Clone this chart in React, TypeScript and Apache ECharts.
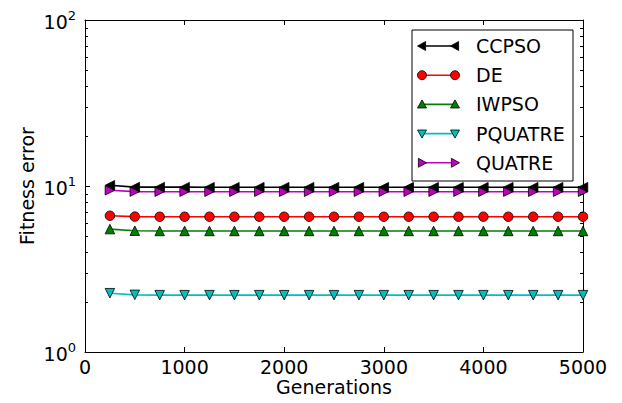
import React, { useEffect, useRef } from "react";
import * as echarts from "echarts";

// Generations at which the error is recorded
const generations = [250, 500, 750, 1000, 1250, 1500, 1750, 2000, 2250, 2500, 2750, 3000, 3250, 3500, 3750, 4000, 4250, 4500, 4750, 5000];

const ccpso = [10.1, 9.85, 9.84, 9.84, 9.83, 9.83, 9.83, 9.83, 9.83, 9.83, 9.83, 9.83, 9.83, 9.83, 9.83, 9.83, 9.83, 9.83, 9.83, 9.83];
const de = [6.62, 6.54, 6.53, 6.53, 6.53, 6.53, 6.53, 6.53, 6.53, 6.53, 6.53, 6.53, 6.53, 6.53, 6.53, 6.53, 6.53, 6.53, 6.53, 6.53];
const iwpso = [5.5, 5.38, 5.36, 5.36, 5.36, 5.36, 5.36, 5.36, 5.36, 5.36, 5.36, 5.36, 5.36, 5.36, 5.36, 5.36, 5.36, 5.36, 5.36, 5.36];
const pquatre = [2.26, 2.21, 2.2, 2.2, 2.2, 2.2, 2.2, 2.2, 2.2, 2.2, 2.2, 2.2, 2.2, 2.2, 2.2, 2.2, 2.2, 2.2, 2.2, 2.2];
const quatre = [9.42, 9.25, 9.24, 9.24, 9.24, 9.24, 9.24, 9.24, 9.24, 9.24, 9.24, 9.24, 9.24, 9.24, 9.24, 9.24, 9.24, 9.24, 9.24, 9.24];

const seriesNames = ["CCPSO", "DE", "IWPSO", "PQUATRE", "QUATRE"];
const seriesValues = [ccpso, de, iwpso, pquatre, quatre];
const seriesColors = ["#000000", "#ff0000", "#008000", "#00bfbf", "#bf00bf"];
// marker shape per series: left triangle, circle, up triangle, down triangle, right triangle
const seriesMarkers = ["left", "circle", "up", "down", "right"];

const xTicks = [0, 1000, 2000, 3000, 4000, 5000];
const yMinorTicks = [2, 3, 4, 5, 6, 7, 8, 9, 20, 30, 40, 50, 60, 70, 80, 90];

const FONT = "DejaVu Sans";

function symbolFor(m: string) {
  if (m === "circle") return { symbol: "circle", rotate: 0 };
  if (m === "up") return { symbol: "triangle", rotate: 0 };
  if (m === "down") return { symbol: "triangle", rotate: 180 };
  if (m === "left") return { symbol: "triangle", rotate: 90 };
  return { symbol: "triangle", rotate: -90 };
}

function markerGraphic(m: string, cx: number, cy: number, color: string) {
  const r = 4.5;
  const style = { fill: color, stroke: "#000", lineWidth: 0.8 };
  if (m === "circle") return { type: "circle", shape: { cx, cy, r }, style };
  let pts: number[][];
  if (m === "up") pts = [[cx, cy - r], [cx - r, cy + r * 0.8], [cx + r, cy + r * 0.8]];
  else if (m === "down") pts = [[cx, cy + r], [cx - r, cy - r * 0.8], [cx + r, cy - r * 0.8]];
  else if (m === "left") pts = [[cx - r, cy], [cx + r * 0.8, cy - r], [cx + r * 0.8, cy + r]];
  else pts = [[cx + r, cy], [cx - r * 0.8, cy - r], [cx - r * 0.8, cy + r]];
  return { type: "polygon", shape: { points: pts }, style };
}

export default function App() {
  const ref = useRef<HTMLDivElement>(null);

  useEffect(() => {
    if (!ref.current) return;
    const chart = echarts.init(ref.current, null, { renderer: "svg" });

    const lineSeries = seriesNames.map((name, i) => {
      const s = symbolFor(seriesMarkers[i]);
      return {
        name,
        type: "line",
        data: generations.map((g, j) => [g, seriesValues[i][j]]),
        symbol: s.symbol,
        symbolRotate: s.rotate,
        symbolSize: 9.5,
        showAllSymbol: true,
        lineStyle: { color: seriesColors[i], width: 1.6 },
        itemStyle: { color: seriesColors[i], borderColor: "#000", borderWidth: 0.8 },
        z: 3 + (seriesNames.length - i),
      };
    });

    // minor ticks of the log axis, on left and right frame edges
    const minorTicks = {
      type: "custom",
      silent: true,
      clip: false,
      data: yMinorTicks.map((v) => [0, v]),
      renderItem: (params: any, api: any) => {
        const p = api.coord([0, api.value(1)]);
        const cs = params.coordSys;
        const y = Math.round(p[1]) + 0.5;
        return {
          type: "group",
          children: [
            { type: "line", shape: { x1: cs.x, y1: y, x2: cs.x + 3, y2: y }, style: { stroke: "#000", lineWidth: 1 } },
            { type: "line", shape: { x1: cs.x + cs.width - 3, y1: y, x2: cs.x + cs.width, y2: y }, style: { stroke: "#000", lineWidth: 1 } },
          ],
        };
      },
      z: 10,
    };

    // hand-built legend with a marker at both ends of each sample line
    const lgX = 412, lgY = 30, lgW = 161, lgH = 151, rowGap = 29.2;
    const legendChildren: any[] = [
      { type: "rect", shape: { x: lgX, y: lgY, width: lgW, height: lgH }, style: { fill: "#fff", stroke: "#000", lineWidth: 1 } },
    ];
    seriesNames.forEach((name, i) => {
      const cy = lgY + 16 + i * rowGap;
      legendChildren.push({ type: "line", shape: { x1: 422, y1: cy, x2: 455, y2: cy }, style: { stroke: seriesColors[i], lineWidth: 1.6 } });
      legendChildren.push(markerGraphic(seriesMarkers[i], 422, cy, seriesColors[i]));
      legendChildren.push(markerGraphic(seriesMarkers[i], 455, cy, seriesColors[i]));
      legendChildren.push({
        type: "text",
        style: { x: 476, y: cy, text: name, font: `19px '${FONT}'`, fill: "#000", textVerticalAlign: "middle", verticalAlign: "middle" },
      });
    });

    const yLabel = {
      formatter: (v: number) => `{b|10}{s|${Math.round(Math.log10(v))}}`,
      margin: 9,
      rich: {
        b: { fontSize: 19, fontFamily: FONT, color: "#000", lineHeight: 22, verticalAlign: "bottom" },
        s: { fontSize: 13, fontFamily: FONT, color: "#000", lineHeight: 13, verticalAlign: "top" },
      },
    };

    chart.setOption({
      animation: false,
      textStyle: { fontFamily: FONT },
      grid: { left: 85, right: 39, top: 20, bottom: 51, containLabel: false, outerBoundsMode: "none" },
      xAxis: [
        {
          type: "value",
          min: 0,
          max: 5000,
          interval: 1000,
          name: "Generations",
          nameLocation: "middle",
          nameGap: 25,
          nameMoveOverlap: false,
          nameTextStyle: { fontSize: 19, fontFamily: FONT, color: "#000" },
          axisLine: { show: true, onZero: false, lineStyle: { color: "#000", width: 1 } },
          axisTick: { show: true, inside: true, length: 5, lineStyle: { color: "#000" } },
          axisLabel: { fontSize: 19, fontFamily: FONT, color: "#000", margin: 5, formatter: (v: number) => (xTicks.includes(v) ? String(v) : "") },
          splitLine: { show: false },
        },
        {
          type: "value",
          position: "top",
          min: 0,
          max: 5000,
          interval: 1000,
          axisLine: { show: true, onZero: false, lineStyle: { color: "#000", width: 1 } },
          axisTick: { show: true, inside: true, length: 5, lineStyle: { color: "#000" } },
          axisLabel: { show: false },
          splitLine: { show: false },
        },
      ],
      yAxis: [
        {
          type: "log",
          logBase: 10,
          min: 1,
          max: 100,
          name: "Fitness error",
          nameLocation: "middle",
          nameGap: 49,
          nameMoveOverlap: false,
          nameRotate: 90,
          nameTextStyle: { fontSize: 19, fontFamily: FONT, color: "#000" },
          axisLine: { show: true, onZero: false, lineStyle: { color: "#000", width: 1 } },
          axisTick: { show: true, inside: true, length: 5, lineStyle: { color: "#000" } },
          axisLabel: yLabel,
          splitLine: { show: false },
        },
        {
          type: "log",
          logBase: 10,
          min: 1,
          max: 100,
          position: "right",
          axisLine: { show: true, onZero: false, lineStyle: { color: "#000", width: 1 } },
          axisTick: { show: true, inside: true, length: 5, lineStyle: { color: "#000" } },
          axisLabel: { show: false },
          splitLine: { show: false },
        },
      ],
      series: [...lineSeries, minorTicks],
      graphic: [{ type: "group", children: legendChildren, z: 100 }],
    });

    return () => chart.dispose();
  }, []);

  return <div ref={ref} style={{ width: 622, height: 403, margin: -8 }} />;
}
